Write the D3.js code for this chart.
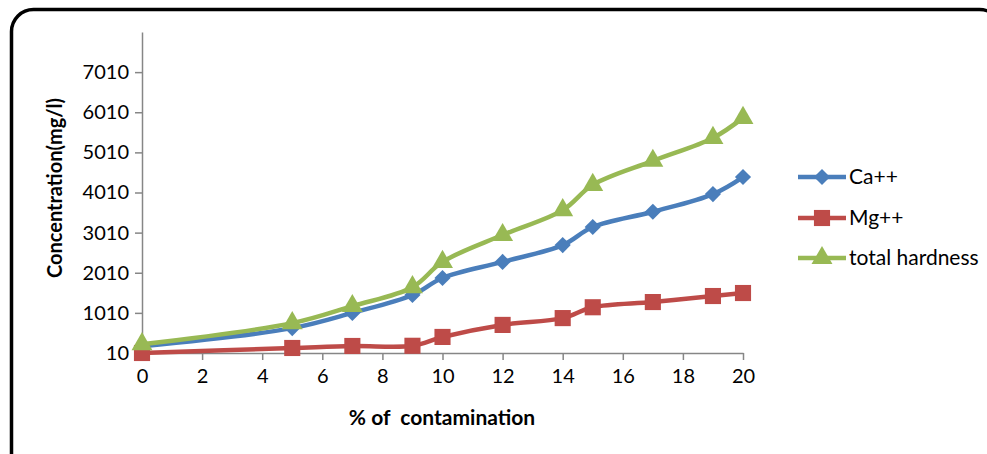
<!DOCTYPE html>
<html>
<head>
<meta charset="utf-8">
<script src="https://cdn.jsdelivr.net/npm/d3@7"></script>
<style>
  html, body { margin: 0; padding: 0; background: #fff; }
  svg { display: block; }
  text { font-family: Lato, "Open Sans", sans-serif; fill: #000; white-space: pre; }
</style>
</head>
<body>
<svg id="chart" width="987" height="454"></svg>
<script>
// ---- data ----
const contamination = [0, 5, 7, 9, 10, 12, 14, 15, 17, 19, 20];
const caValues = [180, 630, 1010, 1455, 1880, 2280, 2700, 3150, 3530, 3970, 4395];
const mgValues = [10, 135, 185, 190, 410, 710, 880, 1150, 1280, 1430, 1505];
const totalHardness = [230, 755, 1180, 1650, 2280, 2950, 3570, 4200, 4800, 5370, 5870];
const seriesNames = ["Ca++", "Mg++", "total hardness"];
const xTicks = [0, 2, 4, 6, 8, 10, 12, 14, 16, 18, 20];
const yTicks = [10, 1010, 2010, 3010, 4010, 5010, 6010, 7010];
const xTitle = "% of  contamination";
const yTitle = "Concentration(mg/l)";

const svg = d3.select("#chart");

// frame
svg.append("rect")
  .attr("x", 11.5).attr("y", 9.5)
  .attr("width", 990).attr("height", 470)
  .attr("rx", 22).attr("ry", 22)
  .attr("fill", "none").attr("stroke", "#000").attr("stroke-width", 3.5);

const x = d3.scaleLinear().domain([0, 20]).range([142, 743]);
const y = d3.scaleLinear().domain([10, 8010]).range([353, 32]);

const axisColor = "#868686";

// y axis
const gy = svg.append("g").attr("transform", "translate(142,0)")
  .call(d3.axisLeft(y).tickValues(yTicks).tickSize(7).tickSizeOuter(0).tickPadding(6).tickFormat(d3.format("d")));
gy.select(".domain").attr("stroke", axisColor).attr("stroke-width", 1.5);
gy.selectAll(".tick line").attr("stroke", axisColor).attr("stroke-width", 1.5);
gy.selectAll(".tick text").attr("font-size", 20).attr("font-family", "Lato, sans-serif").attr("fill", "#000");

// x axis
const gx = svg.append("g").attr("transform", "translate(0,353)")
  .call(d3.axisBottom(x).tickValues(xTicks).tickSize(7).tickSizeOuter(0).tickPadding(9).tickFormat(d3.format("d")));
gx.select(".domain").attr("stroke", axisColor).attr("stroke-width", 1.5);
gx.selectAll(".tick line").attr("stroke", axisColor).attr("stroke-width", 1.5);
gx.selectAll(".tick text").attr("font-size", 20).attr("font-family", "Lato, sans-serif").attr("fill", "#000");

// titles
svg.append("text").attr("x", 442).attr("y", 425)
  .attr("text-anchor", "middle").attr("font-size", 21).attr("font-weight", "bold")
  .attr("xml:space", "preserve")
  .text(xTitle);
svg.append("text")
  .attr("transform", "translate(62,188) rotate(-90)")
  .attr("text-anchor", "middle").attr("font-size", 20).attr("font-weight", "bold")
  .text(yTitle);

// diamond = square rotated by 45 degrees
const diamond = {
  draw(ctx, size) {
    const r = Math.sqrt(size / 2);
    ctx.moveTo(0, -r); ctx.lineTo(r, 0); ctx.lineTo(0, r); ctx.lineTo(-r, 0); ctx.closePath();
  }
};

const series = [
  { name: seriesNames[0], values: caValues, color: "#4A7EBB", marker: diamond, msize: 130 },
  { name: seriesNames[1], values: mgValues, color: "#BE4B48", marker: d3.symbolSquare, msize: 260 },
  { name: seriesNames[2], values: totalHardness, color: "#98B954", marker: d3.symbolTriangle, msize: 190 }
];

const line = d3.line()
  .x((d, i) => x(contamination[i]))
  .y(d => y(d))
  .curve(d3.curveCatmullRom.alpha(0.5));

series.forEach(s => {
  const g = svg.append("g");
  g.append("path").attr("d", line(s.values))
    .attr("fill", "none").attr("stroke", s.color).attr("stroke-width", 4.5)
    .attr("stroke-linejoin", "round");
  g.selectAll("path.m").data(s.values).enter().append("path")
    .attr("class", "m")
    .attr("transform", (d, i) => `translate(${x(contamination[i])},${y(d)})`)
    .attr("d", d3.symbol().type(s.marker).size(s.msize))
    .attr("fill", s.color);
});

// legend
const legY = [177, 218, 258];
series.forEach((s, i) => {
  const g = svg.append("g").attr("transform", `translate(798,${legY[i]})`);
  g.append("line").attr("x1", 0).attr("x2", 48).attr("y1", 0).attr("y2", 0)
    .attr("stroke", s.color).attr("stroke-width", 4.5);
  g.append("path").attr("transform", "translate(24,0)")
    .attr("d", d3.symbol().type(s.marker).size(s.msize))
    .attr("fill", s.color);
  g.append("text").attr("x", 51).attr("y", 0).attr("dy", "0.35em")
    .attr("font-size", 21).text(s.name);
});
</script>
</body>
</html>
